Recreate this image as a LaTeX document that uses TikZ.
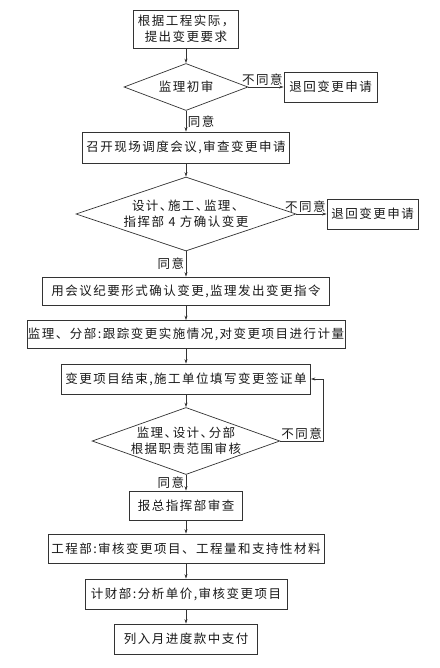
\documentclass[tikz,border=0pt]{standalone}
\usepackage{fontspec}
\newfontfamily\cjk{Noto Sans CJK SC}[LetterSpace=12]
\usetikzlibrary{shapes.geometric,arrows.meta}
\newcommand{\nd}{、\kern-4.5pt}
\begin{document}
\begin{tikzpicture}[x=1pt,y=-1pt,
  every node/.style={font=\cjk\fontsize{12.5pt}{16pt}\selectfont, text=black!90},
  box/.style={draw=black!80, line width=0.7pt, inner sep=0pt, minimum height=30pt, align=center},
  dia/.style={draw=black!80, line width=0.7pt, diamond, inner sep=0pt, aspect=2.8, align=center},
  arr/.style={draw=black!80, line width=0.6pt, -{Stealth[length=4.5pt,width=3pt]}},
  lab/.style={inner sep=1.5pt}]
\useasboundingbox[fill=white] (0,0) rectangle (439,668);
\node[box, minimum width=105pt, minimum height=38pt] (b1) at (186,29) {根据工程实际，\\提出变更要求};
\node[dia, minimum width=124pt, minimum height=47pt] (d1) at (186,87) {监理初审};
\node[box, minimum width=93pt] (r1) at (330.5,87) {退回变更申请};
\node[box, minimum width=207pt, minimum height=31pt] (b2) at (186,147.5) {召开现场调度会议,审查变更申请};
\node[dia, minimum width=220pt, minimum height=74pt] (d2) at (186,214) {设计\nd 施工\nd 监理\nd\\指挥部 4 方确认变更};
\node[box, minimum width=91pt] (r2) at (372.5,214) {退回变更申请};
\node[box, minimum width=287pt, minimum height=28pt] (b3) at (186,291) {用会议纪要形式确认变更,监理发出变更指令};
\node[box, minimum width=318pt, minimum height=28pt] (b4) at (186,334.5) {监理、分部:跟踪变更实施情况,对变更项目进行计量};
\node[box, minimum width=249pt] (b5) at (186,379) {变更项目结束,施工单位填写变更签证单};
\node[dia, minimum width=185pt, minimum height=64pt] (d3) at (186,441) {监理\nd 设计\nd 分部\\根据职责范围审核};
\node[box, minimum width=113pt, minimum height=29pt] (b6) at (186,505.5) {报总指挥部审查};
\node[box, minimum width=276pt, minimum height=29pt] (b7) at (186,548.5) {工程部:审核变更项目、工程量和支持性材料};
\node[box, minimum width=202pt] (b8) at (186,594) {计财部:分析单价,审核变更项目};
\node[box, minimum width=143pt] (b9) at (186,639) {列入月进度款中支付};
\coordinate (fb) at (323,441);
\draw[arr] (b1) -- (d1);
\draw[arr] (d1) -- node[lab, above, pos=0.4] {不同意} (r1);
\draw[arr] (d1) -- node[lab, right] {同意} (b2);
\draw[arr] (b2) -- (d2);
\draw[arr] (d2) -- node[lab, above, pos=0.3] {不同意} (r2);
\draw[arr] (d2) -- node[lab, left] {同意} (b3);
\draw[arr] (b3) -- (b4);
\draw[arr] (b4) -- (b5);
\draw[arr] (b5) -- (d3);
\draw[arr] (d3.east) -- node[lab, above] {不同意} (fb) |- (b5.east);
\draw[arr] (d3) -- node[lab, left] {同意} (b6);
\draw[arr] (b6) -- (b7);
\draw[arr] (b7) -- (b8);
\draw[arr] (b8) -- (b9);
\end{tikzpicture}
\end{document}
